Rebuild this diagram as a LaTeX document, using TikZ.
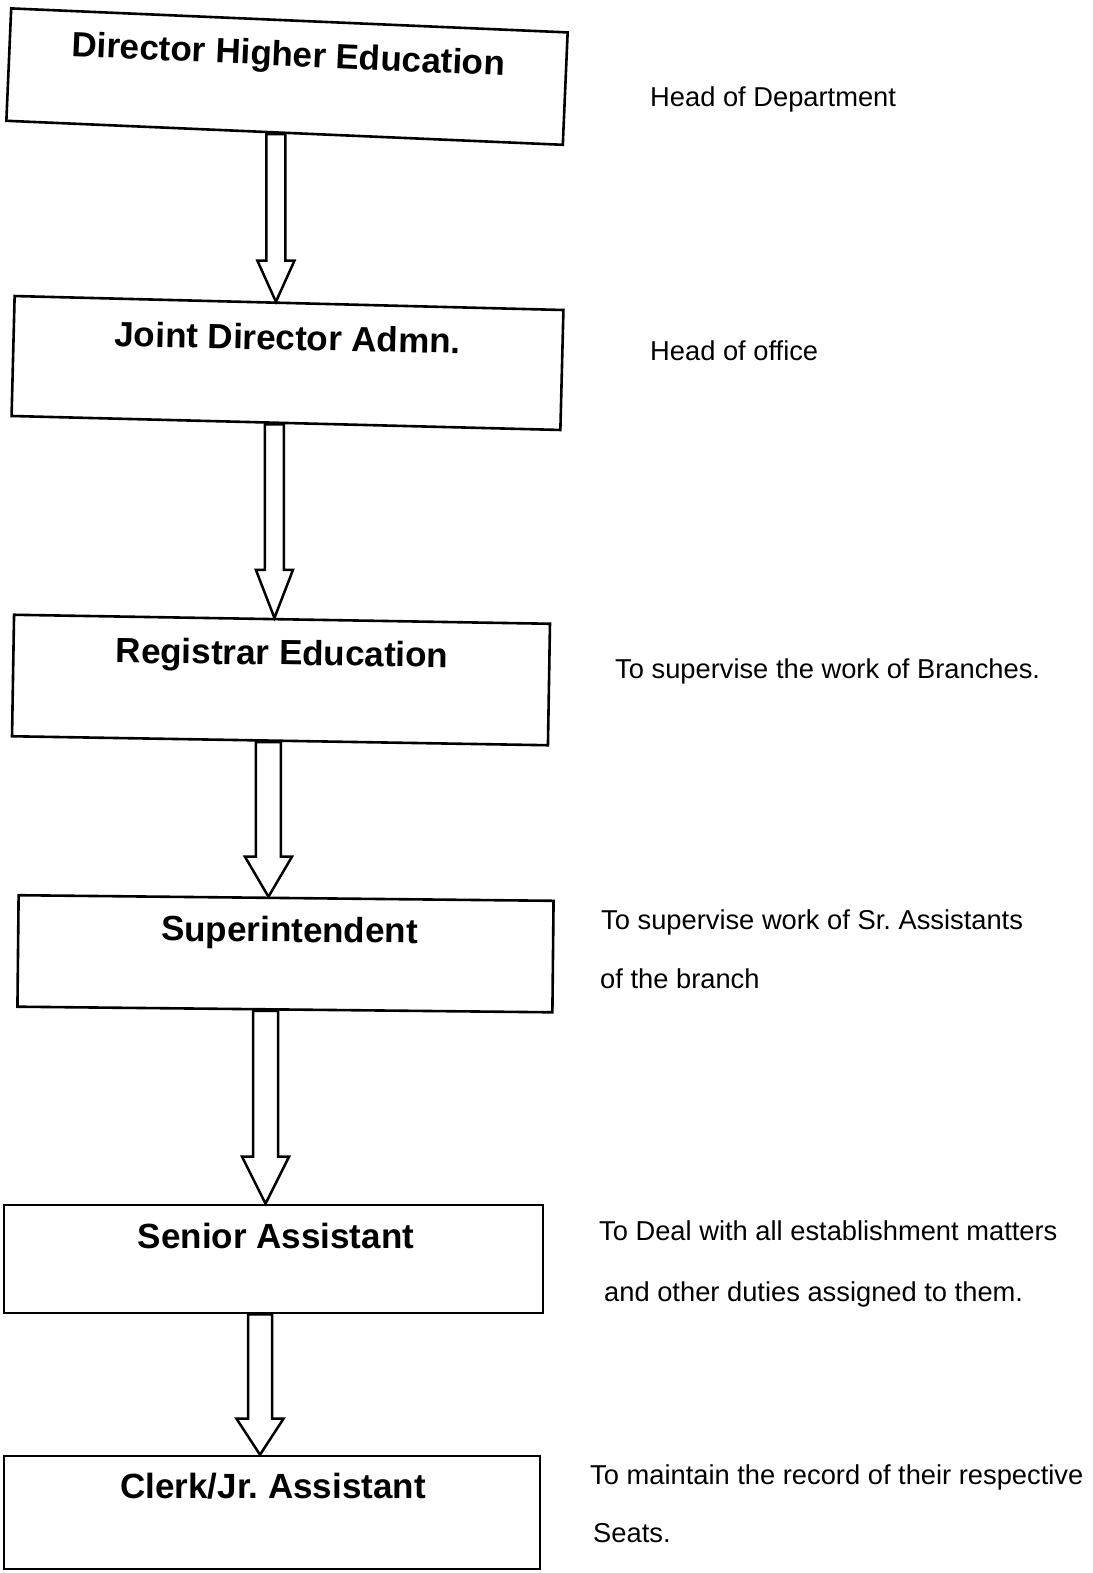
\documentclass[tikz,border=0pt]{standalone}
\usepackage{fontspec}
\setmainfont{Liberation Sans}
\usetikzlibrary{calc}
\frenchspacing
\tikzset{
  box/.style={draw, line width=2.6pt, inner sep=0pt},
  title/.style={font=\bfseries\fontsize{35}{42}\selectfont, anchor=base, inner sep=0pt},
  note/.style={font=\fontsize{27.3}{33}\selectfont, anchor=base west, inner sep=0pt},
  blk/.style={draw, line width=2.5pt, fill=white, line join=miter},
}
% #1 start coordinate, #2 tip coordinate, #3 shaft half width, #4 head half width, #5 head length
\newcommand\blockarr[5]{%
  \draw[blk] let \p1=(#1), \p2=(#2) in
    (\x2-#3pt,\y1) -- (\x2-#3pt,\y2+#5pt) -- (\x2-#4pt,\y2+#5pt) -- (\x2,\y2)
    -- (\x2+#4pt,\y2+#5pt) -- (\x2+#3pt,\y2+#5pt) -- (\x2+#3pt,\y1) -- cycle;}
\begin{document}
\begin{tikzpicture}[x=1pt,y=-1pt]
\fill[white] (0,0) rectangle (1092,1573);
\useasboundingbox (0,0) rectangle (1092,1573);

% boxes
\node[box, minimum width=557pt, minimum height=112.5pt, rotate=-2.47] (b1) at (287,76.6) {};
\node[box, minimum width=549pt, minimum height=120pt, rotate=-1.46] (b2) at (287.5,363) {};
\node[box, minimum width=536pt, minimum height=121.5pt, rotate=-0.96] (b3) at (281,680) {};
\node[box, minimum width=535pt, minimum height=111.5pt, rotate=-0.6] (b4) at (285.5,953.75) {};
\node[box, minimum width=539pt, minimum height=108pt] (b5) at (273.5,1259) {};
\node[box, minimum width=536pt, minimum height=113pt] (b6) at (272,1512.5) {};

% titles
\node[title, rotate=-2.6] (l1) at (288,66) {Director Higher Education};
\node[title, rotate=-1.2] (l2) at (287.5,350) {Joint Director Admn.};
\node[title, rotate=-0.8] (l3) at (282,665) {Registrar Education};
\node[title, rotate=-0.5] (l4) at (289.5,942) {Superintendent};
\node[title] (l5) at (276,1248) {Senior Assistant};
\node[title] (l6) at (273,1498) {Clerk/Jr. Assistant};

% notes
\node[note] (n1) at (650,107) {Head of Department};
\node[note] (n2) at (650,360) {Head of office};
\node[note] (n3) at (615,678) {To supervise the work of Branches.};
\node[note] (n4) at (601,929) {To supervise work of Sr. Assistants};
\node[note] (n5) at (600,988) {of the branch};
\node[note] (n6) at (599,1240) {To Deal with all establishment matters};
\node[note] (n7) at (604,1301) {and other duties assigned to them.};
\node[note] (n8) at (590,1484) {To maintain the record of their respective};
\node[note] (n9) at (593,1542) {Seats.};

% arrow anchor points
\path (b1.south) ++(-8.6,0) coordinate (s1);
\path (b2.north -| s1) coordinate (e1);
\path (b2.south) ++(-11.5,0) coordinate (s2);
\path (b3.north -| s2) coordinate (e2);
\path (b3.south) ++(-11.5,0) coordinate (s3);
\path (b4.north -| s3) coordinate (e3);
\path (b4.south) ++(-19.4,0) coordinate (s4);
\path (b5.north -| s4) coordinate (e4);
\path (b5.south) ++(-13.5,0) coordinate (s5);
\path (b6.north -| s5) coordinate (e5);

\blockarr{s1}{e1}{9.5}{18.5}{41}
\blockarr{s2}{e2}{9.5}{18.5}{48}
\blockarr{s3}{e3}{12.5}{23.5}{40}
\blockarr{s4}{e4}{12.5}{23.5}{47}
\blockarr{s5}{e5}{12}{23.5}{36}
\end{tikzpicture}
\end{document}
